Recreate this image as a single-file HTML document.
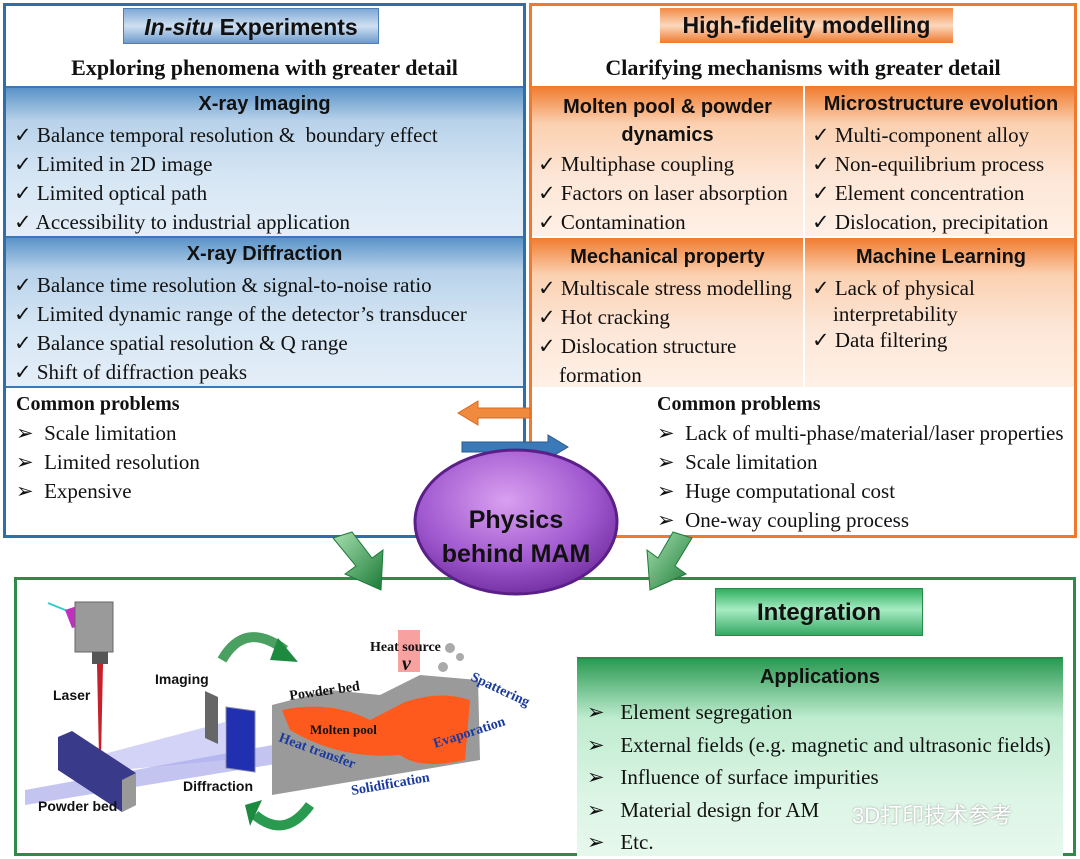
<!DOCTYPE html>
<html><head><meta charset="utf-8"><style>
*{margin:0;padding:0;box-sizing:border-box}
body{width:1080px;height:859px;background:#fff;position:relative;overflow:hidden;font-family:"Liberation Serif",serif;color:#111}
.a{position:absolute}
.h{font-family:"Liberation Sans",sans-serif;font-weight:bold;text-align:center;color:#111}
.s{font-family:"Liberation Serif",serif;font-weight:bold;text-align:center;font-size:22px}
.l{font-size:21px;line-height:29px;white-space:nowrap}
.blue{background:linear-gradient(#5a93c8 0%,#b8d2ea 22%,#d6e6f4 60%,#e4eef8 100%);border-top:2px solid #3b78b4}
.or{background:linear-gradient(#f07a2c 0%,#fbd0b0 25%,#fde6d6 60%,#fff0e6 100%)}
</style></head><body>
<div class="a" style="left:3px;top:3px;width:523px;height:535px;border:3px solid #2f6ea6"></div>
<div class="a h" style="left:123px;top:8px;width:256px;height:36px;background:linear-gradient(#7fa9d6,#cfe0f1 50%,#6f9ccc);border:1px solid #4c7fb6;font-size:23px;line-height:36px"><i>In-situ</i> Experiments</div>
<div class="a s" style="left:6px;top:55px;width:517px">Exploring phenomena with greater detail</div>
<div class="a blue" style="left:6px;top:86px;width:517px;height:151px"></div>
<div class="a blue" style="left:6px;top:236px;width:517px;height:150px"></div>
<div class="a" style="left:6px;top:386px;width:517px;height:2px;background:#3b78b4"></div>
<div class="a h" style="left:6px;top:93px;width:517px;font-size:20px">X-ray Imaging</div>
<div class="a l" style="left:14px;top:121px">✓ Balance temporal resolution &amp;&nbsp; boundary effect<br>✓ Limited in 2D image<br>✓ Limited optical path<br>✓ Accessibility to industrial application</div>
<div class="a h" style="left:6px;top:243px;width:517px;font-size:20px">X-ray Diffraction</div>
<div class="a l" style="left:14px;top:271px">✓ Balance time resolution &amp; signal-to-noise ratio<br>✓ Limited dynamic range of the detector’s transducer<br>✓ Balance spatial resolution &amp; Q range<br>✓ Shift of diffraction peaks</div>
<div class="a l" style="left:16px;top:389px"><b style="font-size:20px">Common problems</b><br>➢&nbsp; Scale limitation<br>➢&nbsp; Limited resolution<br>➢&nbsp; Expensive</div>
<div class="a" style="left:529px;top:3px;width:548px;height:535px;border:3px solid #ef7a2e"></div>
<div class="a h" style="left:660px;top:8px;width:293px;height:35px;background:linear-gradient(#f28a45,#fbd8bd 50%,#ef7a30);font-size:23px;line-height:35px">High-fidelity modelling</div>
<div class="a s" style="left:532px;top:55px;width:542px">Clarifying mechanisms with greater detail</div>
<div class="a or" style="left:532px;top:86px;width:542px;height:151px"></div>
<div class="a or" style="left:532px;top:237px;width:542px;height:150px"></div>
<div class="a" style="left:803px;top:86px;width:2px;height:301px;background:#fff"></div>
<div class="a" style="left:532px;top:236px;width:542px;height:2px;background:#fff"></div>
<div class="a h" style="left:532px;top:93px;width:271px;font-size:20px;line-height:28px">Molten pool &amp; powder<br>dynamics</div>
<div class="a l" style="left:538px;top:150px">✓ Multiphase coupling<br>✓ Factors on laser absorption<br>✓ Contamination</div>
<div class="a h" style="left:805px;top:93px;width:272px;font-size:20px">Microstructure evolution</div>
<div class="a l" style="left:812px;top:121px">✓ Multi-component alloy<br>✓ Non-equilibrium process<br>✓ Element concentration<br>✓ Dislocation, precipitation</div>
<div class="a h" style="left:532px;top:246px;width:271px;font-size:20px">Mechanical property</div>
<div class="a l" style="left:538px;top:274px;line-height:29px">✓ Multiscale stress modelling<br>✓ Hot cracking<br>✓ Dislocation structure<br>&nbsp;&nbsp;&nbsp;&nbsp;formation</div>
<div class="a h" style="left:805px;top:246px;width:272px;font-size:20px">Machine Learning</div>
<div class="a l" style="left:812px;top:275px;line-height:26px">✓ Lack of physical<br>&nbsp;&nbsp;&nbsp;&nbsp;interpretability<br>✓ Data filtering</div>
<div class="a l" style="left:657px;top:389px"><b style="font-size:20px">Common problems</b><br>➢&nbsp; Lack of multi-phase/material/laser properties<br>➢&nbsp; Scale limitation<br>➢&nbsp; Huge computational cost<br>➢&nbsp; One-way coupling process</div>
<div class="a" style="left:14px;top:577px;width:1062px;height:279px;border:3px solid #2e8b4a"></div>
<div class="a h" style="left:715px;top:588px;width:208px;height:48px;background:linear-gradient(#2fb060,#a8ecc4 45%,#35a862);border:1px solid #2a8a4a;font-size:24px;line-height:48px">Integration</div>
<div class="a" style="left:577px;top:657px;width:486px;height:199px;background:linear-gradient(#2a9a52 0%,#bfeccf 30%,#dcf5e5 70%,#e6f8ec 100%);border-top:2px solid #2a8a4a"></div>
<div class="a h" style="left:577px;top:666px;width:486px;font-size:20px">Applications</div>
<div class="a l" style="left:587px;top:696px;line-height:32.5px">➢&nbsp;&nbsp; Element segregation<br>➢&nbsp;&nbsp; External fields (e.g. magnetic and ultrasonic fields)<br>➢&nbsp;&nbsp; Influence of surface impurities<br>➢&nbsp;&nbsp; Material design for AM<br>➢&nbsp;&nbsp; Etc.</div>
<div class="a" style="left:852px;top:798px;font-family:'Liberation Sans','Noto Sans CJK SC',sans-serif;font-size:22px;color:#fff;text-shadow:0 0 2px #999">3D打印技术参考</div>
<svg class="a" style="left:0;top:0" width="1080" height="859">
<defs>
<radialGradient id="pg" cx="45%" cy="35%" r="70%"><stop offset="0" stop-color="#d9a0f0"/><stop offset=".6" stop-color="#a25ad0"/><stop offset="1" stop-color="#6d2a9c"/></radialGradient>
<linearGradient id="gr" x1="0" y1="0" x2="1" y2="1"><stop offset="0" stop-color="#a8e0b0"/><stop offset="1" stop-color="#1a7a36"/></linearGradient>
</defs>
<polygon points="458,413 478,401 478,408 530,408 530,418 478,418 478,425" fill="#f08a3c" stroke="#d86820"/>
<polygon points="462,442 548,442 548,435 568,447 548,459 548,452 462,452" fill="#3a7ab8" stroke="#2a5a90"/>
<path d="M333,538 L352,532 L372,558 L383,550 L381,590 L345,574 L356,566 Z" fill="url(#gr)" stroke="#1e7a3a"/>
<path d="M692,538 L673,532 L658,558 L647,550 L650,590 L686,574 L675,566 Z" fill="url(#gr)" stroke="#1e7a3a"/>
<ellipse cx="516" cy="522" rx="101" ry="72" fill="url(#pg)" stroke="#5a1f88" stroke-width="3"/>
<text x="516" y="528" font-family="Liberation Sans" font-weight="bold" font-size="25" text-anchor="middle" fill="#111">Physics</text>
<text x="516" y="562" font-family="Liberation Sans" font-weight="bold" font-size="25" text-anchor="middle" fill="#111">behind MAM</text>
<polygon points="25,790 300,740 300,760 25,805" fill="#9c9ce8" opacity=".6"/>
<polygon points="100,755 225,722 225,760 100,772" fill="#a8a8f0" opacity=".5"/>
<line x1="48" y1="603" x2="70" y2="612" stroke="#3cc" stroke-width="2"/>
<path d="M65,610 L80,605 L85,625 L72,628 Z" fill="#c030c0"/>
<rect x="75" y="602" width="38" height="50" fill="#9a9a9a" stroke="#666"/>
<rect x="92" y="652" width="16" height="12" fill="#555"/>
<polygon points="97,664 103,664 101,757 99,757" fill="#c8202a"/>
<polygon points="58,737 72,731 136,773 136,805 122,812 58,770" fill="#3a3a8a"/>
<polygon points="122,780 136,773 136,805 122,812" fill="#999"/>
<polygon points="205,691 218,697 218,744 205,738" fill="#666"/>
<polygon points="226,707 255,711 255,772 226,768" fill="#2030b0" stroke="#88a" />
<path d="M222,660 Q245,620 285,650" stroke="#4aa060" stroke-width="10" fill="none"/>
<polygon points="278,638 298,662 270,660" fill="#1e8a40"/>
<path d="M310,805 Q285,840 255,815" stroke="#2a9a50" stroke-width="10" fill="none"/>
<polygon points="245,805 262,800 250,826" fill="#1e8a40"/>
<polygon points="272,705 330,690 380,695 420,675 478,680 480,760 272,795" fill="#9a9a9a"/>
<path d="M282,710 Q330,700 370,720 L405,702 Q440,690 470,700 L465,760 Q420,770 400,755 Q340,760 290,730 Z" fill="#ff5a1e"/>
<rect x="398" y="630" width="22" height="42" fill="#f58a8a" opacity=".8"/>
<circle cx="450" cy="648" r="5" fill="#aaa"/><circle cx="460" cy="657" r="4" fill="#aaa"/><circle cx="443" cy="667" r="5" fill="#aaa"/>
<g font-family="Liberation Serif" font-weight="bold" font-size="14">
<text x="370" y="651" fill="#111">Heat source</text>
<text x="290" y="700" fill="#111" transform="rotate(-8 290 700)">Powder bed</text>
<text x="310" y="734" fill="#111" font-size="13">Molten pool</text>
<text x="435" y="748" fill="#1a3aa0" transform="rotate(-18 435 748)">Evaporation</text>
<text x="470" y="680" fill="#1a3aa0" transform="rotate(25 470 680)">Spattering</text>
<text x="278" y="741" fill="#1a3aa0" transform="rotate(20 278 741)">Heat transfer</text>
<text x="352" y="795" fill="#1a3aa0" transform="rotate(-10 352 795)">Solidification</text>
<text x="402" y="670" fill="#111" font-size="20" font-style="italic">v</text>
</g>
<g font-family="Liberation Sans" font-weight="bold" font-size="14" fill="#111">
<text x="53" y="700">Laser</text><text x="155" y="684">Imaging</text>
<text x="183" y="791">Diffraction</text><text x="38" y="811">Powder bed</text>
</g>
</svg>
</body></html>
